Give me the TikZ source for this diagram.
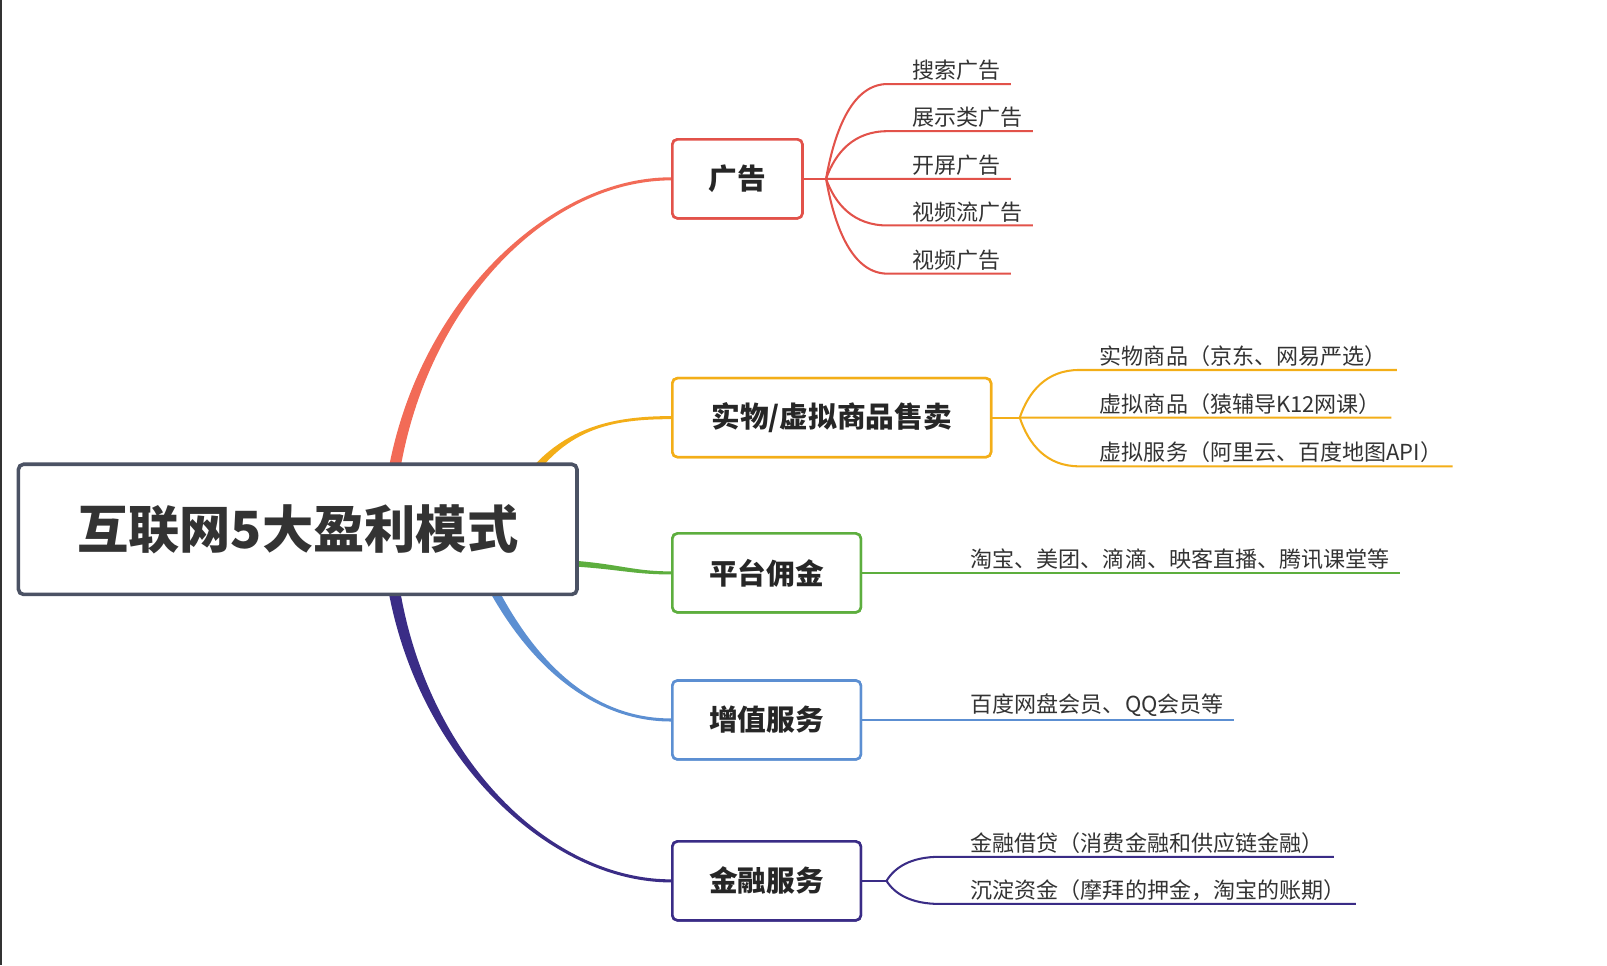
\documentclass[tikz,border=0pt]{standalone}
\usepackage{fontspec}
\setmainfont{Noto Sans CJK SC}
\usetikzlibrary{calc}

\definecolor{txt}{HTML}{333333}
\definecolor{rootline}{HTML}{4B5264}
\definecolor{adred}{HTML}{E2524A}
\definecolor{adbranch}{HTML}{F26B57}
\definecolor{goodsorange}{HTML}{F3AE18}
\definecolor{commgreen}{HTML}{5DAE3E}
\definecolor{vasblue}{HTML}{5C8FD2}
\definecolor{finpurple}{HTML}{3A2C86}

% tapered branch: colour, start, c1, c2, end, half width at start, half width at end
\newcommand{\taper}[7]{%
  \fill[#1] ($#2+#6$) .. controls ($#3+#6$) and ($#4+#7$) .. ($#5+#7$)
    -- ($#5-#7$) .. controls ($#4-#7$) and ($#3-#6$) .. ($#2-#6$) -- cycle;}

% rounded fork twig: colour, fork, leaf node, reach of the bend
\newcommand{\twig}[4]{%
  \draw[twig=#1] (#2) .. controls ($(#2)!0.55!(#2 |- #3.south)+(0.15*#4,0)$) and ($(#2 |- #3.south)+(0.45*#4,0)$)
    .. ($(#2 |- #3.south)+(#4,0)$) -- ([xshift=10pt]#3.south east);}

\tikzset{
  rootbox/.style={draw=rootline, line width=3.5pt, rounded corners=5pt, fill=white,
    minimum width=545pt, minimum height=127pt, text=txt,
    font=\fontsize{50}{57}\selectfont\bfseries},
  topic/.style={draw=#1, line width=2.5pt, rounded corners=5pt, fill=white,
    minimum height=77pt, inner sep=0pt, text=black!85,
    font=\fontsize{28}{33}\selectfont\bfseries},
  leaf/.style={anchor=south west, inner xsep=0pt, inner ysep=3pt, text=txt,
    font=\fontsize{21.5}{25}\selectfont},
  twig/.style={draw=#1, line width=2pt}
}

\begin{document}
\begin{tikzpicture}[x=1pt, y=-1pt]
  \useasboundingbox (0,0) rectangle (1568,942);
  \draw[line width=1.5pt, black!80] (0.75,0) -- (0.75,942);

  % main topics
  \node[topic=adred, minimum width=127pt] (ad) at (719.5,174.5) {广告};
  \node[topic=goodsorange, minimum width=311pt] (goods) at (811.5,407.5) {实物/虚拟商品售卖};
  \node[topic=commgreen, minimum width=184pt] (comm) at (748,559) {平台佣金};
  \node[topic=vasblue, minimum width=184pt] (vas) at (748,702.5) {增值服务};
  \node[topic=finpurple, minimum width=184pt] (fin) at (748,859.5) {金融服务};

  % branches from the root
  \coordinate (rAd) at (378,540);
  \coordinate (rGoods) at (500,490);
  \coordinate (rComm) at (520,548);
  \coordinate (rVas) at (460,530);
  \coordinate (rFin) at (378,495);
  \taper{adbranch}{(rAd)}{(376,330)}{(520,174.5)}{(ad.west)}{(-6,0)}{(0,-1.5)}
  \taper{goodsorange}{(rGoods)}{(540,420)}{(590,407.5)}{(goods.west)}{(-5,0)}{(0,-1.5)}
  \taper{commgreen}{(rComm)}{(600,550)}{(610,559)}{(comm.west)}{(0,-3)}{(0,-1.5)}
  \taper{vasblue}{(rVas)}{(510,650)}{(580,702.5)}{(vas.west)}{(-5,0)}{(0,1.5)}
  \taper{finpurple}{(rFin)}{(376,705)}{(520,859.5)}{(fin.west)}{(-6,0)}{(0,1.5)}

  \node[rootbox] (root) at (290.5,516.5) {互联网5大盈利模式};

  % redraw topics over the branch ends
  \node[topic=adred, minimum width=127pt] at (ad) {广告};
  \node[topic=goodsorange, minimum width=311pt] at (goods) {实物/虚拟商品售卖};
  \node[topic=commgreen, minimum width=184pt] at (comm) {平台佣金};
  \node[topic=vasblue, minimum width=184pt] at (vas) {增值服务};
  \node[topic=finpurple, minimum width=184pt] at (fin) {金融服务};

  % 广告
  \coordinate (adF) at (806,174.5);
  \node[leaf] (a1) at (890,82) {搜索广告};
  \node[leaf] (a2) at (890,128) {展示类广告};
  \node[leaf] (a3) at (890,174.5) {开屏广告};
  \node[leaf] (a4) at (890,220) {视频流广告};
  \node[leaf] (a5) at (890,267) {视频广告};
  \draw[twig=adred] (ad.east) -- (adF);
  \foreach \n in {a1,a2,a3,a4,a5}
    \twig{adred}{adF}{\n}{60};

  % 实物/虚拟商品售卖
  \coordinate (gdF) at (995,407.5);
  \node[leaf] (g1) at (1073,361) {实物商品（京东、网易严选）};
  \node[leaf] (g2) at (1073,407.5) {虚拟商品（猿辅导K12网课）};
  \node[leaf] (g3) at (1073,455) {虚拟服务（阿里云、百度地图API）};
  \draw[twig=goodsorange] (goods.east) -- (gdF);
  \foreach \n in {g1,g2,g3}
    \twig{goodsorange}{gdF}{\n}{58};

  % 平台佣金
  \node[leaf] (c1) at (947,559) {淘宝、美团、滴滴、映客直播、腾讯课堂等};
  \draw[twig=commgreen] (comm.east) -- ([xshift=10pt]c1.south east);

  % 增值服务
  \node[leaf] (v1) at (947,702.5) {百度网盘会员、QQ会员等};
  \draw[twig=vasblue] (vas.east) -- ([xshift=10pt]v1.south east);

  % 金融服务
  \coordinate (fnF) at (865,859.5);
  \node[leaf] (f1) at (947,836) {金融借贷（消费金融和供应链金融）};
  \node[leaf] (f2) at (947,882) {沉淀资金（摩拜的押金，淘宝的账期）};
  \draw[twig=finpurple] (fin.east) -- (fnF);
  \foreach \n in {f1,f2}
    \twig{finpurple}{fnF}{\n}{52};
\end{tikzpicture}
\end{document}
